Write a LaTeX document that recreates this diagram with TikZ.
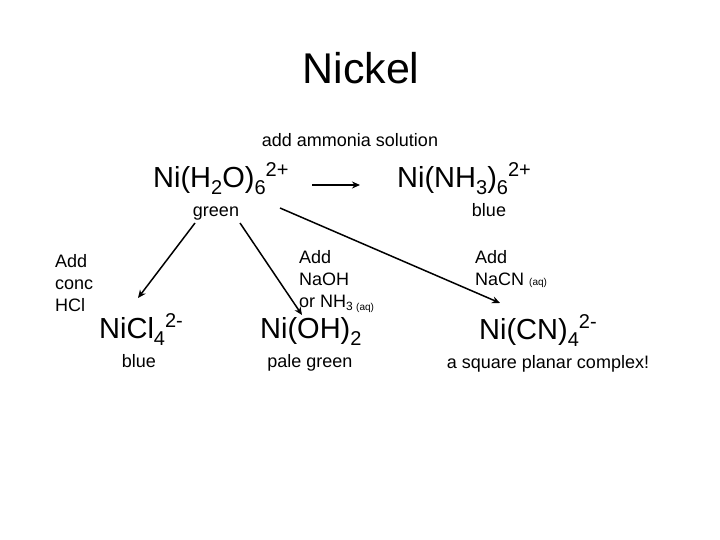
\documentclass[tikz,border=0pt]{standalone}
\usepackage{fontspec}
\setmainfont{Liberation Sans}
\usetikzlibrary{arrows.meta}
\newcommand\bigsub[1]{\raisebox{-7pt}{\fontsize{20}{20}\selectfont #1}}
\newcommand\bigsup[1]{\raisebox{11pt}{\fontsize{20}{20}\selectfont #1}}
\newcommand\smsub[1]{\raisebox{-3pt}{\fontsize{12}{12}\selectfont #1}}
\newcommand\aq{{\fontsize{10}{10}\selectfont (aq)}}
\tikzset{
  formula/.style={anchor=base west, inner sep=0pt, font=\fontsize{29}{31}\selectfont},
  label/.style={anchor=base, inner sep=0pt, font=\fontsize{18}{22}\selectfont},
  note/.style={anchor=base west, inner sep=0pt, align=left, font=\fontsize{18}{22}\selectfont},
  rxn/.style={line width=1.5pt, -{Stealth[length=8pt,width=7pt]}}
}
\begin{document}
\begin{tikzpicture}[x=1pt,y=-1pt]
\useasboundingbox (0,0) rectangle (720,540);
\node[anchor=base, inner sep=0pt, font=\fontsize{43}{46}\selectfont] (title) at (361,84) {Nickel};
\node[label] (ammonia) at (350,147) {add ammonia solution};
\node[formula] (aqua) at (153,188) {Ni(H\bigsub{2}O)\bigsub{6}\bigsup{2+}};
\node[formula] (ammine) at (397,188) {Ni(NH\bigsub{3})\bigsub{6}\bigsup{2+}};
\node[label] (green) at (216,217) {green};
\node[label] (blue1) at (489,217) {blue};
\node[note] (hcl) at (55,311) {Add\\conc\\HCl};
\node[note] (naoh) at (299,307) {Add\\NaOH\\or NH\smsub{3 \aq}};
\node[note] (nacn) at (475,285) {Add\\NaCN \aq};
\node[formula] (chloro) at (99,338) {NiCl\bigsub{4}\bigsup{2-}};
\node[formula] (hydrox) at (260,338) {Ni(OH)\bigsub{2}};
\node[formula] (cyano) at (479,339) {Ni(CN)\bigsub{4}\bigsup{2-}};
\node[label] (blue2) at (139,367) {blue};
\node[label] (pale) at (310,367) {pale green};
\node[label] (square) at (548,368) {a square planar complex!};
\coordinate (h1) at (312,185);
\coordinate (h2) at (360,185);
\coordinate (a1s) at (195,223);
\coordinate (a1e) at (138,298);
\coordinate (a2s) at (240,223);
\coordinate (a2e) at (302,315);
\coordinate (a3s) at (280,208);
\coordinate (a3e) at (500,303);
\draw[rxn] (h1) -- (h2);
\draw[rxn] (a1s) -- (a1e);
\draw[rxn] (a2s) -- (a2e);
\draw[rxn] (a3s) -- (a3e);
\end{tikzpicture}
\end{document}
